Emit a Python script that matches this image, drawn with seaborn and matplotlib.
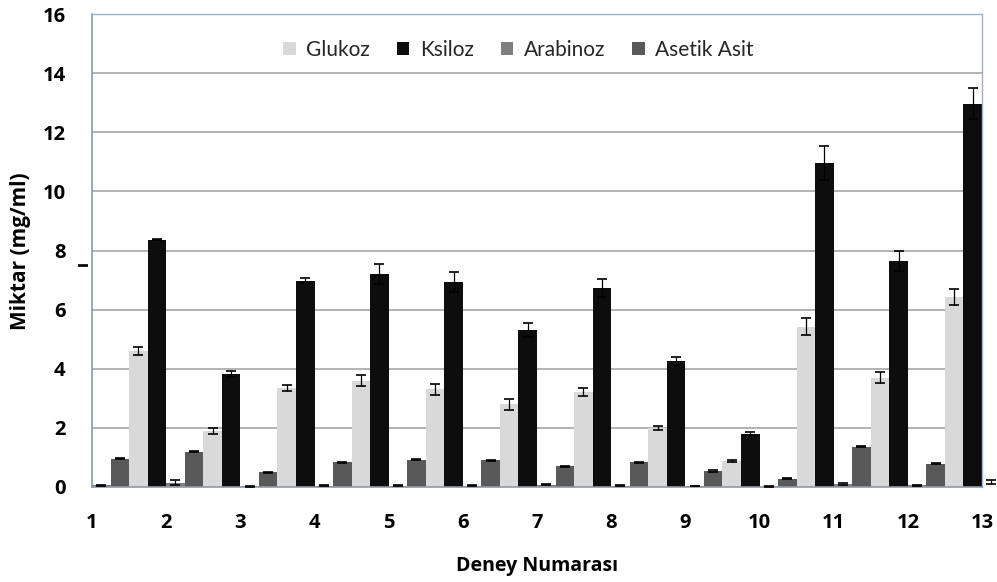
import numpy as np
import pandas as pd
import matplotlib
matplotlib.use("Agg")
import matplotlib.pyplot as plt
import seaborn as sns

# Deney numaraları ve bileşen miktarları (mg/ml)
deney = list(range(1, 14))
series = ["Glukoz", "Ksiloz", "Arabinoz", "Asetik Asit"]

glukoz = [np.nan, 4.60, 1.90, 3.35, 3.60, 3.30, 2.80, 3.22, 2.00, 0.88, 5.42, 3.70, 6.42]
ksiloz = [7.50, 8.36, 3.82, 6.98, 7.20, 6.93, 5.31, 6.73, 4.26, 1.80, 10.95, 7.65, 12.97]
arabinoz = [0.06, 0.15, 0.01, 0.05, 0.05, 0.05, 0.08, 0.05, 0.03, 0.01, 0.10, 0.06, 0.16]
asetik = [0.96, 1.20, 0.50, 0.84, 0.93, 0.90, 0.70, 0.83, 0.54, 0.28, 1.36, 0.79, np.nan]

glukoz_err = [np.nan, 0.15, 0.10, 0.10, 0.18, 0.18, 0.18, 0.13, 0.08, 0.05, 0.28, 0.18, 0.28]
ksiloz_err = [0.02, 0.02, 0.10, 0.08, 0.35, 0.35, 0.23, 0.30, 0.15, 0.05, 0.58, 0.35, 0.53]
arabinoz_err = [0.02, 0.08, 0.01, 0.02, 0.02, 0.02, 0.02, 0.02, 0.01, 0.01, 0.04, 0.02, 0.06]
asetik_err = [0.02, 0.02, 0.02, 0.02, 0.02, 0.02, 0.02, 0.02, 0.02, 0.02, 0.02, 0.02, np.nan]

colors = ["#d9d9d9", "#0d0d0d", "#7f7f7f", "#595959"]

values = {"Glukoz": glukoz, "Ksiloz": ksiloz, "Arabinoz": arabinoz, "Asetik Asit": asetik}
errors = {"Glukoz": glukoz_err, "Ksiloz": ksiloz_err, "Arabinoz": arabinoz_err, "Asetik Asit": asetik_err}

rows = []
for s in series:
    for d, v, e in zip(deney, values[s], errors[s]):
        rows.append({"Deney": str(d), "Bileşen": s, "Miktar": v, "Hata": e})
df = pd.DataFrame(rows)

sns.set_theme(style="white")
plt.rcParams["font.family"] = ["Lato", "DejaVu Sans"]
bold_font = ["Open Sans", "DejaVu Sans"]

fig = plt.figure(figsize=(9.97, 5.82), dpi=100)
ax = fig.add_axes([92 / 997, 1 - 487 / 582, (982 - 92) / 997, (487 - 14) / 582])

sns.barplot(data=df, x="Deney", y="Miktar", hue="Bileşen", hue_order=series,
            order=[str(d) for d in deney], palette=colors, width=1.0,
            errorbar=None, saturation=1.0, linewidth=0, ax=ax, legend=True)

# Error bars on each bar, matched to its category by the bar position
for s, cont in zip(series, ax.containers):
    sub = df[df["Bileşen"] == s].set_index("Deney")
    xs, ys, es = [], [], []
    for bar in cont:
        xc = bar.get_x() + bar.get_width() / 2
        k = int(np.floor(bar.get_x() + 0.5 + 1e-6))
        v, e = sub.loc[str(deney[k]), "Miktar"], sub.loc[str(deney[k]), "Hata"]
        if np.isnan(v) or np.isnan(e):
            continue
        xs.append(xc)
        ys.append(v)
        es.append(e)
    eb = ax.errorbar(xs, ys, yerr=es, fmt="none", ecolor="black",
                     elinewidth=0.9, capsize=3.5, capthick=1.2, zorder=4)
    for art in list(eb.lines[1]) + list(eb.lines[2]):
        art.set_clip_on(s == "Glukoz")

ax.set_xlim(0, 12)
ax.set_ylim(0, 16)
ax.set_yticks(np.arange(0, 17, 2))
ax.set_xticks(range(13))
ax.set_xticklabels([str(d) for d in deney])

ax.yaxis.grid(True, color="#a6a6a6", linewidth=1.2)
ax.set_axisbelow(True)

for side in ["left", "bottom"]:
    ax.spines[side].set_color("#8a99ad")
    ax.spines[side].set_linewidth(1.2)
for side in ["top", "right"]:
    ax.spines[side].set_color("#95b3d7")
    ax.spines[side].set_linewidth(1.0)
    ax.spines[side].set_visible(True)

ax.tick_params(axis="both", which="major", length=8, width=1.2, color="#8a99ad",
               labelsize=14.5, direction="out")
ax.tick_params(axis="x", pad=11)
ax.tick_params(axis="y", pad=11)
for lab in ax.get_xticklabels() + ax.get_yticklabels():
    lab.set_fontweight("bold")
    lab.set_family(bold_font)
    lab.set_color("black")

ax.set_xlabel("Deney Numarası", fontsize=14, fontweight="bold", family=bold_font,
              labelpad=16, color="black")
ax.set_ylabel("Miktar (mg/ml)", fontsize=15, fontweight="bold", family=bold_font,
              color="black")
ax.yaxis.set_label_coords(31 / 997, 1 - 251 / 582, transform=fig.transFigure)

handles, labels = ax.get_legend_handles_labels()
ax.legend(handles, labels, loc="upper center", bbox_to_anchor=(0.479, 0.985), ncol=4,
          frameon=False, fontsize=15, handlelength=0.6, handleheight=0.6,
          handletextpad=0.5, columnspacing=1.3)

fig.savefig("out.png", dpi=100)
